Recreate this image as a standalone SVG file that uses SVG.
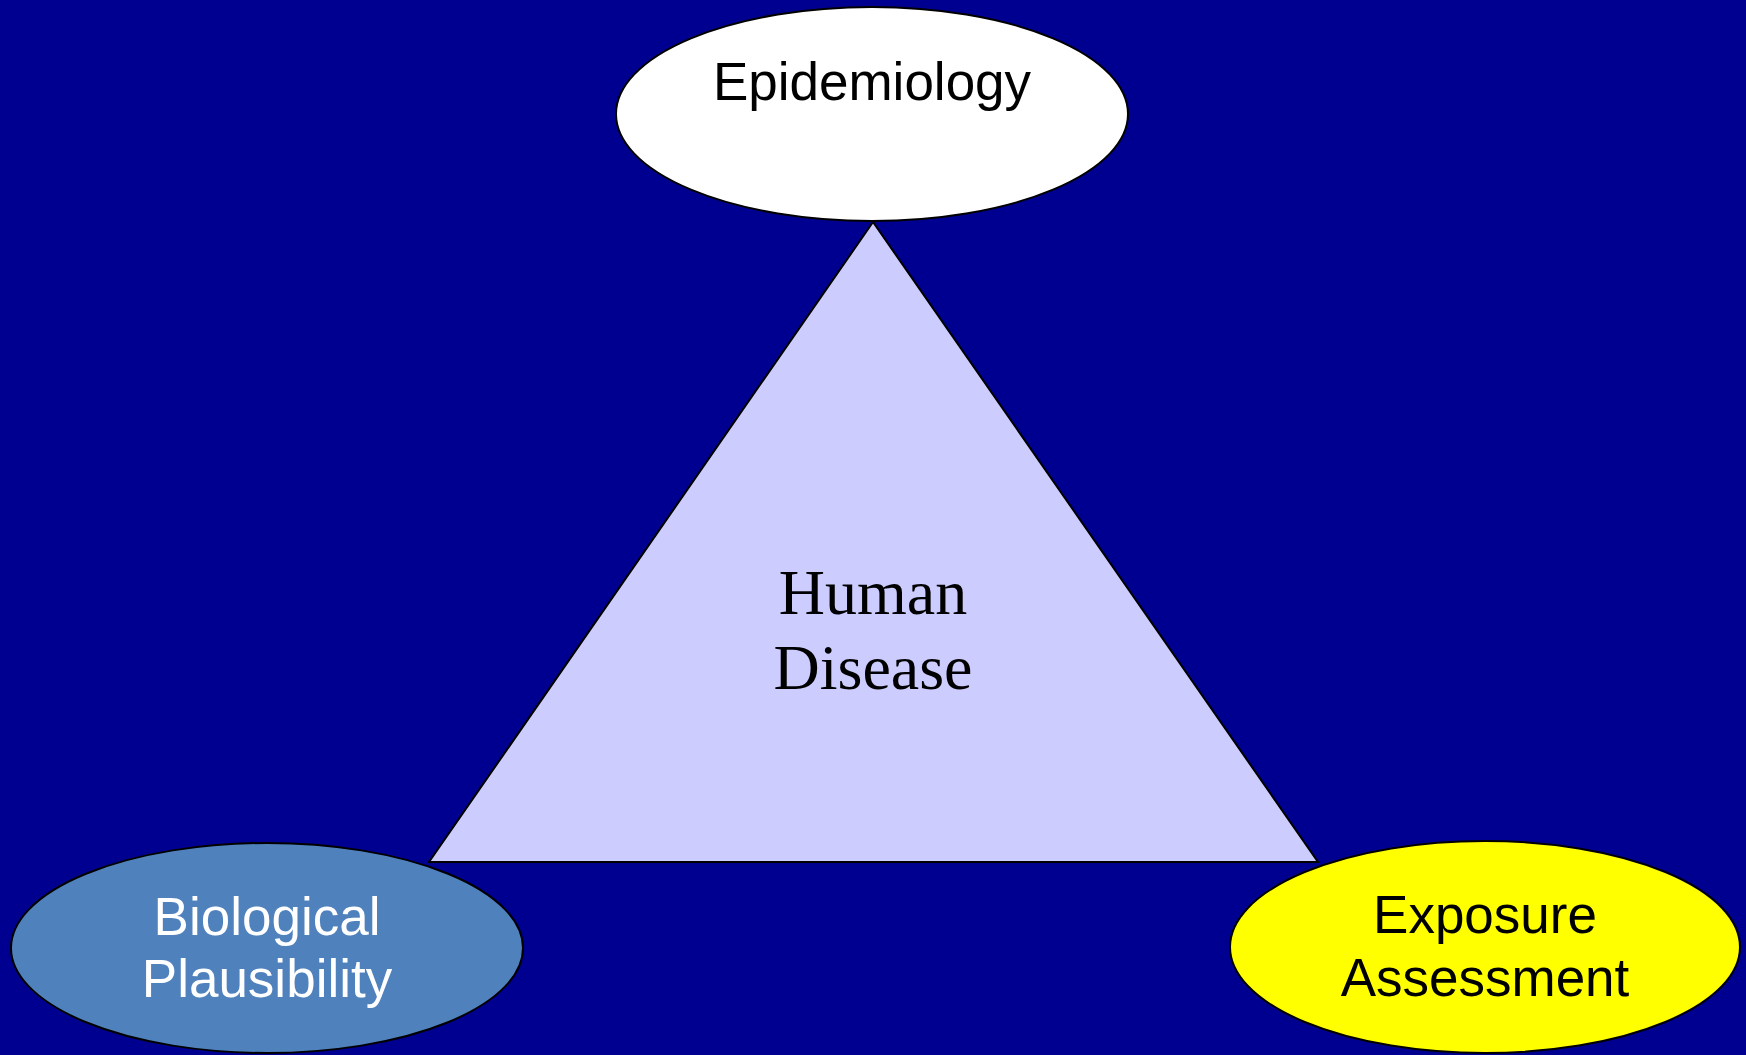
<svg xmlns="http://www.w3.org/2000/svg" width="1746" height="1055" viewBox="0 0 1746 1055">
<style>
.shape{stroke:#000;stroke-width:2}
.sans{font-family:"Liberation Sans",Arial,sans-serif;font-size:53px;text-anchor:middle}
.serif{font-family:"Liberation Serif","Times New Roman",serif;font-size:64px;text-anchor:middle;fill:#000}
</style>
<rect width="1746" height="1055" fill="#000090"/>
<g id="human-disease">
<polygon class="shape" points="873,222 429,862 1318,862" fill="#CCCCFF"/>
<text class="serif" x="873" y="614">Human</text>
<text class="serif" x="873" y="689">Disease</text>
</g>
<g id="epidemiology">
<ellipse class="shape" cx="872" cy="114" rx="256" ry="107" fill="#FFFFFF"/>
<text class="sans" x="872" y="100" fill="#000">Epidemiology</text>
</g>
<g id="biological-plausibility">
<ellipse class="shape" cx="267" cy="948" rx="256" ry="105" fill="#4F81BD"/>
<text class="sans" x="267" y="935" fill="#FFFFFF">Biological</text>
<text class="sans" x="267" y="997" fill="#FFFFFF">Plausibility</text>
</g>
<g id="exposure-assessment">
<ellipse class="shape" cx="1485" cy="947" rx="255" ry="106" fill="#FFFF00"/>
<text class="sans" x="1485" y="933" fill="#000">Exposure</text>
<text class="sans" x="1485" y="996" fill="#000">Assessment</text>
</g>
<g id="connectors"></g>
</svg>
